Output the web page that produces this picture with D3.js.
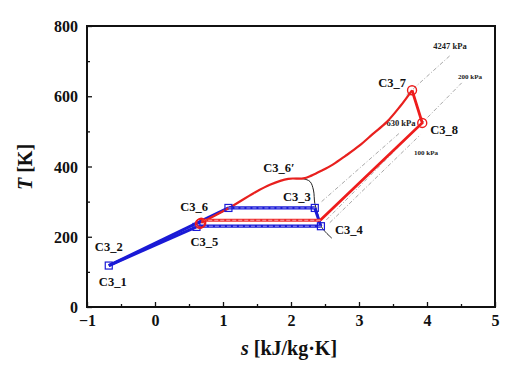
<!DOCTYPE html>
<html><head><meta charset="utf-8">
<script src="https://cdn.jsdelivr.net/npm/d3@7"></script>
<style>body{margin:0;background:#fff}svg{display:block}</style>
</head><body>
<script>
// ---- data ----
const xTicks = [-1, 0, 1, 2, 3, 4, 5];
const yTicks = [0, 200, 400, 600, 800];
// blue cycle (s, T)
const blueFeedS = [-0.68, 0.61];
const blueFeedT = [118, 228];
const blueFeed2S = [-0.68, 1.08];
const blueFeed2T = [118, 282];
const blueTopS = [1.08, 2.35];
const blueTopT = [282, 282];
const blueDropS = [2.35, 2.44];
const blueDropT = [282, 230];
const blueBotS = [2.44, 0.61];
const blueBotT = [230, 230];
const blueMarkS = [-0.68, 0.61, 1.08, 2.35, 2.44];
const blueMarkT = [118, 228, 282, 282, 230];
// red cycle
const redCurveS = [0.68, 1.08, 1.45, 1.69, 1.96, 2.18, 2.30, 2.45, 2.62, 2.80, 3.01, 3.20, 3.41, 3.60, 3.78];
const redCurveT = [240, 281, 324, 348, 365, 366, 374, 388, 406, 430, 460, 492, 527, 570, 617];
const redExpS = [3.78, 3.93, 2.43];
const redExpT = [617, 524, 247];
const redLowS = [2.43, 0.68];
const redLowT = [247, 247];
const redMarkS = [0.68, 0.66, 3.78, 3.93];
const redMarkT = [240, 237, 617, 524];
// saturated vapour line
const satS = [2.05, 2.18, 2.28, 2.33, 2.35, 2.40, 2.43, 2.50, 2.60];
const satT = [366, 365, 357, 333, 295, 260, 234, 215, 196];
// isobars
const isoNames = ["4247 kPa", "630 kPa", "200 kPa", "100 kPa"];
const isoS0 = [3.70, 2.45, 2.52, 2.57];
const isoT0 = [604, 300, 248, 240];
const isoS1 = [4.34, 3.60, 4.51, 3.90];
const isoT1 = [716, 496, 638, 490];
// state labels
const stateNames = ["C3_1", "C3_2", "C3_3", "C3_4", "C3_5", "C3_6", "C3_6\u2032", "C3_7", "C3_8"];
const stateS = [-0.68, -0.68, 2.35, 2.44, 0.61, 0.68, 2.00, 3.78, 3.93];
const stateT = [118, 118, 282, 230, 228, 240, 366, 617, 524];

// ---- layout (not data) ----
const W = 512, H = 365;
const m = {l: 87, r: 495, t: 26, b: 307};
const labelOffset = [[4, 16], [0, -19], [-18, -11], [28, 3], [8, 15], [-7, -16], [-12, -11], [-20, -8], [22, 7]];
const isoLabelPos = [[450, 46], [401, 123], [470, 77], [426, 153]];
const isoLabelSize = [8.5, 8.5, 7, 7];
const serif = "'Liberation Serif','Times New Roman',serif";

const svg = d3.select("body").append("svg").attr("width", W).attr("height", H)
  .style("font-family", serif);
const x = d3.scaleLinear().domain([-1, 5]).range([m.l, m.r]);
const y = d3.scaleLinear().domain([0, 800]).range([m.b, m.t]);
const line = d3.line().x(d => x(d[0])).y(d => y(d[1]));
const zip = (a, b) => a.map((v, i) => [v, b[i]]);

// isobars
const iso = svg.append("g");
isoNames.forEach((n, i) => {
  iso.append("path").attr("d", line([[isoS0[i], isoT0[i]], [isoS1[i], isoT1[i]]]))
    .attr("fill", "none").attr("stroke", "#a8a8a8").attr("stroke-width", 1)
    .attr("stroke-dasharray", "4,2,1,2");
  iso.append("text").attr("x", isoLabelPos[i][0]).attr("y", isoLabelPos[i][1])
    .attr("dy", "0.35em").attr("text-anchor", "middle").attr("font-weight", "bold")
    .attr("font-size", isoLabelSize[i]).attr("fill", "#222").text(n);
});

// saturation line
svg.append("path").attr("d", line.curve(d3.curveCatmullRom)(zip(satS, satT)))
  .attr("fill", "none").attr("stroke", "#222").attr("stroke-width", 1);
line.curve(d3.curveLinear);

// blue
const blue = "#1a1ad6";
[[blueFeedS, blueFeedT], [blueFeed2S, blueFeed2T], [blueDropS, blueDropT]].forEach(([s, t]) => {
  svg.append("path").attr("d", line(zip(s, t))).attr("fill", "none")
    .attr("stroke", blue).attr("stroke-width", 3);
});
// red lines
svg.append("path").attr("d", line.curve(d3.curveCatmullRom)(zip(redCurveS, redCurveT)))
  .attr("fill", "none").attr("stroke", "#e8201e").attr("stroke-width", 2.2);
line.curve(d3.curveLinear);
svg.append("path").attr("d", line(zip(redExpS, redExpT))).attr("fill", "none")
  .attr("stroke", "#ee1c1c").attr("stroke-width", 2.8);
// dashed-core horizontal lines
function doubleLine(s, t, col, core) {
  svg.append("path").attr("d", line(zip(s, t))).attr("fill", "none")
    .attr("stroke", col).attr("stroke-width", 3.2);
  svg.append("path").attr("d", line(zip(s, t))).attr("fill", "none")
    .attr("stroke", core).attr("stroke-width", 1).attr("stroke-dasharray", "4,2");
}
doubleLine(redLowS, redLowT, "#ee2a2a", "#f6b0b0");
doubleLine(blueTopS, blueTopT, blue, "#9a9af0");
doubleLine(blueBotS, blueBotT, blue, "#9a9af0");

// markers
svg.append("g").selectAll("rect").data(zip(blueMarkS, blueMarkT)).join("rect")
  .attr("x", d => x(d[0]) - 3.5).attr("y", d => y(d[1]) - 3.5)
  .attr("width", 7).attr("height", 7).attr("fill", "none")
  .attr("stroke", blue).attr("stroke-width", 1.2);
svg.append("g").selectAll("circle").data(zip(redMarkS, redMarkT)).join("circle")
  .attr("cx", d => x(d[0])).attr("cy", d => y(d[1])).attr("r", 4.5)
  .attr("fill", "none").attr("stroke", "#ee1c1c").attr("stroke-width", 1.4);

// state labels
stateNames.forEach((n, i) => {
  svg.append("text").attr("x", x(stateS[i]) + labelOffset[i][0])
    .attr("y", y(stateT[i]) + labelOffset[i][1]).attr("dy", "0.35em")
    .attr("text-anchor", "middle").attr("font-weight", "bold").attr("font-size", 12.5)
    .attr("fill", "#111").text(n);
});

// axes (ticks inward)
const xAxis = svg.append("g").attr("transform", `translate(0,${m.b})`)
  .call(d3.axisBottom(x).tickValues(xTicks).tickSizeInner(-5).tickSizeOuter(0).tickPadding(8).tickFormat(d3.format("d")));
svg.append("g").attr("transform", `translate(0,${m.b})`)
  .call(d3.axisBottom(x).tickValues(d3.range(-0.5, 5, 1)).tickSizeInner(-3).tickSizeOuter(0).tickFormat(""))
  .call(g => g.select(".domain").remove());
const yAxis = svg.append("g").attr("transform", `translate(${m.l},0)`)
  .call(d3.axisLeft(y).tickValues(yTicks).tickSizeInner(-5).tickSizeOuter(0).tickPadding(9));
svg.append("g").attr("transform", `translate(${m.l},0)`)
  .call(d3.axisLeft(y).tickValues(d3.range(100, 800, 200)).tickSizeInner(-3).tickSizeOuter(0).tickFormat(""))
  .call(g => g.select(".domain").remove());
svg.selectAll(".tick line").attr("stroke", "#111").attr("stroke-width", 1.3);
[xAxis, yAxis].forEach(a => {
  a.select(".domain").remove();
  a.selectAll("text").attr("font-family", serif).attr("font-weight", "bold")
    .attr("font-size", 16).attr("fill", "#111");
});
yAxis.selectAll("text").attr("dy", "0.35em");
xAxis.selectAll("text").attr("dy", "0.71em");
// frame
svg.append("rect").attr("x", m.l).attr("y", m.t).attr("width", m.r - m.l).attr("height", m.b - m.t)
  .attr("fill", "none").attr("stroke", "#111").attr("stroke-width", 2);

// titles
const xt = svg.append("text").attr("x", 289).attr("y", 348).attr("dy", "0.35em")
  .attr("text-anchor", "middle").attr("font-weight", "bold").attr("font-size", 20).attr("fill", "#111");
xt.append("tspan").attr("font-style", "italic").text("s");
xt.append("tspan").text(" [kJ/kg\u00b7K]");
const yt = svg.append("text").attr("transform", "translate(25,167) rotate(-90)").attr("dy", "0.35em")
  .attr("text-anchor", "middle").attr("font-weight", "bold").attr("font-size", 20).attr("fill", "#111");
yt.append("tspan").attr("font-style", "italic").text("T");
yt.append("tspan").text(" [K]");
</script>
</body></html>
